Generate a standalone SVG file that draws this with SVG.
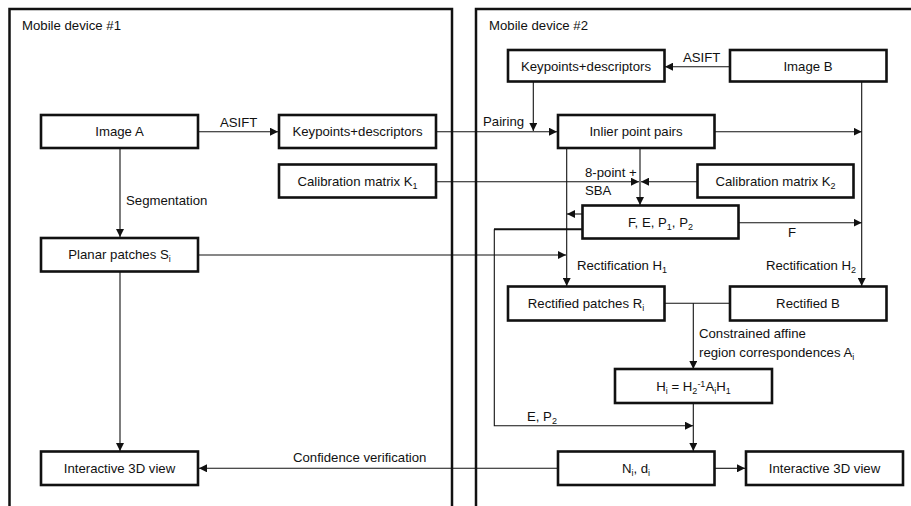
<svg xmlns="http://www.w3.org/2000/svg" width="911" height="506" viewBox="0 0 911 506">
  <style>
    .frame { fill: none; stroke: #111; stroke-width: 2.5; }
    .box rect { fill: #fff; stroke: #111; stroke-width: 2.6; }
    .box text, .lbl { font-family: "Liberation Sans", Arial, sans-serif; font-size: 13.2px; fill: #111; }
    .box text { text-anchor: middle; }
    .sub { font-size: 9px; }
    .conn path { fill: none; stroke: #111; stroke-width: 1.1; }
    .conn path.heavy { stroke-width: 2; }
  </style>
  <defs>
    <marker id="arrow" markerUnits="userSpaceOnUse" markerWidth="9" markerHeight="8" refX="8" refY="4" orient="auto">
      <path d="M0,0 L8,4 L0,8 z" fill="#111"/>
    </marker>
  </defs>

  <!-- device frames (open at the bottom and right) -->
  <g id="device1">
    <rect class="frame" x="9.5" y="9" width="442.5" height="520"/>
    <text class="lbl" x="22" y="30">Mobile device #1</text>
  </g>
  <g id="device2">
    <rect class="frame" x="476" y="9" width="460" height="520"/>
    <text class="lbl" x="489" y="30">Mobile device #2</text>
  </g>

  <!-- connectors -->
  <g id="connectors" class="conn">
    <path d="M198,131.7 H278" marker-end="url(#arrow)"/>
    <path d="M436,131.7 H557" marker-end="url(#arrow)"/>
    <path d="M533.3,82 V131" marker-end="url(#arrow)"/>
    <path d="M730,66.7 H665" marker-end="url(#arrow)"/>
    <path d="M714,131.7 H861.7" marker-end="url(#arrow)"/>
    <path d="M861.7,82 V286" marker-end="url(#arrow)"/>
    <path d="M640,148 V205" marker-end="url(#arrow)"/>
    <path d="M436,181.7 H639" marker-end="url(#arrow)"/>
    <path d="M697,181.7 H641" marker-end="url(#arrow)"/>
    <path d="M566.7,148 V286" marker-end="url(#arrow)"/>
    <path d="M582,214 H567" marker-end="url(#arrow)"/>
    <path class="heavy" d="M582,229.3 H494"/>
    <path d="M494.3,229.3 V425.7 H693" marker-end="url(#arrow)"/>
    <path d="M738,222.7 H861.7" marker-end="url(#arrow)"/>
    <path d="M198,255 H566" marker-end="url(#arrow)"/>
    <path d="M120,148 V237" marker-end="url(#arrow)"/>
    <path d="M120,272 V451" marker-end="url(#arrow)"/>
    <path d="M557,468.3 H199" marker-end="url(#arrow)"/>
    <path d="M664,303.3 H730"/>
    <path d="M693.3,303.3 V369" marker-end="url(#arrow)"/>
    <path d="M693.3,403 V451" marker-end="url(#arrow)"/>
    <path d="M714,468.3 H745" marker-end="url(#arrow)"/>
  </g>

  <!-- connector labels -->
  <g id="labels">
    <text class="lbl" x="220" y="127">ASIFT</text>
    <text class="lbl" x="683" y="62">ASIFT</text>
    <text class="lbl" x="483" y="126">Pairing</text>
    <text class="lbl" x="126" y="205">Segmentation</text>
    <text class="lbl" x="585" y="177">8-point +</text>
    <text class="lbl" x="585" y="195">SBA</text>
    <text class="lbl" x="788" y="237">F</text>
    <text class="lbl" x="577" y="270">Rectification H<tspan class="sub" dy="3">1</tspan></text>
    <text class="lbl" x="766" y="270">Rectification H<tspan class="sub" dy="3">2</tspan></text>
    <text class="lbl" x="699" y="338">Constrained affine</text>
    <text class="lbl" x="699" y="357">region correspondences A<tspan class="sub" dy="3">i</tspan></text>
    <text class="lbl" x="527" y="421">E, P<tspan class="sub" dy="3">2</tspan></text>
    <text class="lbl" x="293" y="462">Confidence verification</text>
  </g>

  <!-- nodes -->
  <g id="imageA" class="box">
    <rect x="41" y="115" width="157" height="33"/>
    <text x="119.5" y="136">Image A</text>
  </g>
  <g id="keypoints1" class="box">
    <rect x="279" y="115" width="157" height="33"/>
    <text x="357.5" y="136">Keypoints+descriptors</text>
  </g>
  <g id="calibK1" class="box">
    <rect x="279" y="164.5" width="157" height="33"/>
    <text x="357.5" y="185.5">Calibration matrix K<tspan class="sub" dy="3">1</tspan></text>
  </g>
  <g id="planarPatches" class="box">
    <rect x="41" y="238" width="157" height="33.5"/>
    <text x="119.5" y="259">Planar patches S<tspan class="sub" dy="3">i</tspan></text>
  </g>
  <g id="view3d1" class="box">
    <rect x="41" y="451.5" width="157" height="33.5"/>
    <text x="119.5" y="472.5">Interactive 3D view</text>
  </g>

  <g id="keypoints2" class="box">
    <rect x="508" y="50" width="156.5" height="31.5"/>
    <text x="586" y="70.5">Keypoints+descriptors</text>
  </g>
  <g id="imageB" class="box">
    <rect x="730" y="50" width="156.5" height="31.5"/>
    <text x="808" y="70.5">Image B</text>
  </g>
  <g id="inlierPairs" class="box">
    <rect x="558" y="115" width="156.5" height="33"/>
    <text x="636" y="136">Inlier point pairs</text>
  </g>
  <g id="calibK2" class="box">
    <rect x="697.5" y="164.5" width="156" height="33"/>
    <text x="775.5" y="185.5">Calibration matrix K<tspan class="sub" dy="3">2</tspan></text>
  </g>
  <g id="fepp" class="box">
    <rect x="582.5" y="205.5" width="156" height="33"/>
    <text x="660.5" y="226.5">F, E, P<tspan class="sub" dy="3">1</tspan><tspan dy="-3">, P</tspan><tspan class="sub" dy="3">2</tspan></text>
  </g>
  <g id="rectPatches" class="box">
    <rect x="508" y="286.5" width="156.5" height="34"/>
    <text x="586" y="308">Rectified patches R<tspan class="sub" dy="3">i</tspan></text>
  </g>
  <g id="rectB" class="box">
    <rect x="730" y="286.5" width="156.5" height="34"/>
    <text x="808" y="308">Rectified B</text>
  </g>
  <g id="homography" class="box">
    <rect x="615" y="369" width="157" height="34"/>
    <text x="693.5" y="390.5">H<tspan class="sub" dy="3">i</tspan><tspan dy="-3"> = H</tspan><tspan class="sub" dy="3">2</tspan><tspan class="sub" dy="-7">-1</tspan><tspan dy="4">A</tspan><tspan class="sub" dy="3">i</tspan><tspan dy="-3">H</tspan><tspan class="sub" dy="3">1</tspan></text>
  </g>
  <g id="normals" class="box">
    <rect x="558" y="451.5" width="156.5" height="33.5"/>
    <text x="636" y="472.5">N<tspan class="sub" dy="3">i</tspan><tspan dy="-3">, d</tspan><tspan class="sub" dy="3">i</tspan></text>
  </g>
  <g id="view3d2" class="box">
    <rect x="746" y="451.5" width="157" height="33.5"/>
    <text x="824.5" y="472.5">Interactive 3D view</text>
  </g>
</svg>
